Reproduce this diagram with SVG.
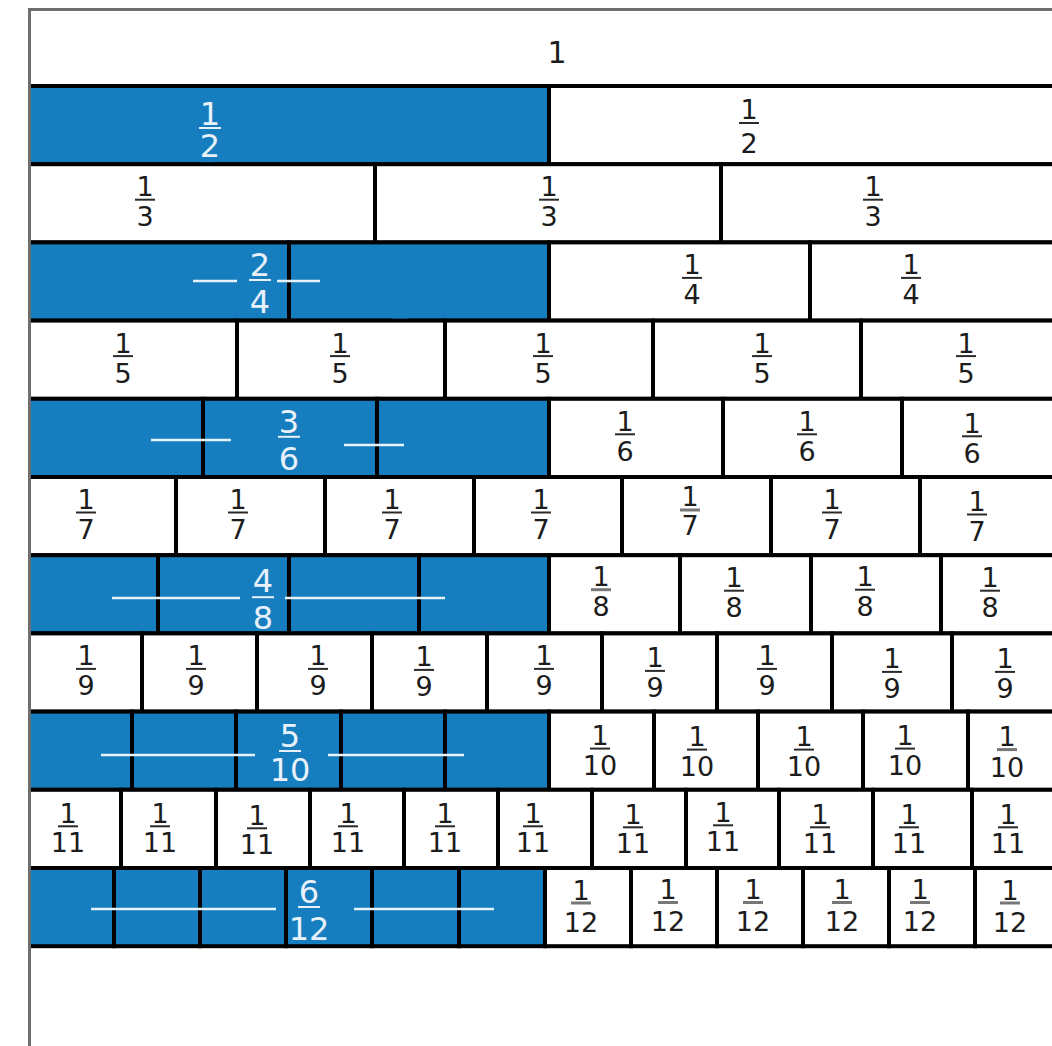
<svg xmlns="http://www.w3.org/2000/svg" width="1052" height="1046" viewBox="0 0 1052 1046">
<style>
.w{fill:#fff;stroke:#000;stroke-width:4}
.b{fill:#167ebf;stroke:#000;stroke-width:4}
text{font-family:"DejaVu Sans",Verdana,sans-serif;text-anchor:middle}
.t{font-size:27px;fill:#1c1c1c}
.tb{font-size:32px;fill:#e8f1fa}
.fb{stroke:#2a2a2a;stroke-width:2}
.fw{stroke:#e8f1fa;stroke-width:2}
.ln{stroke:#e8f1fa;stroke-width:2.5}
.frame{stroke:#6e6e6e;stroke-width:3;fill:none}
</style>
<rect width="1052" height="1046" fill="#fff"/>

<g id="whole"><text class="t" style="font-size:30px" x="557" y="63">1</text></g>

<g id="row2" transform="translate(0,86)">
<g id="r2c1"><rect class="b" x="28" y="0" width="521" height="78.2"/></g>
<g id="r2c2"><rect class="w" x="549" y="0" width="531" height="78.2"/><text class="t" x="749" y="33">1</text><line class="fb" x1="739" x2="759" y1="37" y2="37"/><text class="t" x="749" y="67">2</text></g>
<rect x="200" y="74" width="14" height="5" fill="#167ebf"/>
<g id="r2label"><text class="tb" x="210" y="39">1</text><line class="fw" x1="199" x2="221" y1="42" y2="42"/><text class="tb" x="210" y="71">2</text></g>
</g>

<g id="row3" transform="translate(0,164.2)">
<g id="r3c1"><rect class="w" x="28" y="0" width="347" height="78.2"/><text class="t" x="145" y="32">1</text><line class="fb" x1="135" x2="155" y1="35.5" y2="35.5"/><text class="t" x="145" y="62">3</text></g>
<g id="r3c2"><rect class="w" x="375" y="0" width="346" height="78.2"/><text class="t" x="549" y="32">1</text><line class="fb" x1="539" x2="559" y1="35.5" y2="35.5"/><text class="t" x="549" y="62">3</text></g>
<g id="r3c3"><rect class="w" x="721" y="0" width="359" height="78.2"/><text class="t" x="873" y="32">1</text><line class="fb" x1="863" x2="883" y1="35.5" y2="35.5"/><text class="t" x="873" y="62">3</text></g>
</g>

<g id="row4" transform="translate(0,242.4)">
<g id="r4c1"><rect class="b" x="28" y="0" width="261" height="78.2"/></g>
<g id="r4c2"><rect class="b" x="289" y="0" width="260" height="78.2"/></g>
<g id="r4c3"><rect class="w" x="549" y="0" width="261" height="78.2"/><text class="t" x="692" y="32">1</text><line class="fb" x1="682" x2="702" y1="35.5" y2="35.5"/><text class="t" x="692" y="62">4</text></g>
<g id="r4c4"><rect class="w" x="810" y="0" width="270" height="78.2"/><text class="t" x="911" y="32">1</text><line class="fb" x1="901" x2="921" y1="35.5" y2="35.5"/><text class="t" x="911" y="62">4</text></g>
<rect x="391" y="74" width="18" height="4" fill="#167ebf"/>
<g id="r4label"><text class="tb" x="260" y="33.6">2</text><line class="fw" x1="249" x2="271" y1="37.6" y2="37.6"/><text class="tb" x="260" y="70.6">4</text></g>
</g>

<g id="row5" transform="translate(0,320.6)">
<g id="r5c1"><rect class="w" x="28" y="0" width="209" height="78.2"/><text class="t" x="123" y="32">1</text><line class="fb" x1="113" x2="133" y1="35.5" y2="35.5"/><text class="t" x="123" y="62">5</text></g>
<g id="r5c2"><rect class="w" x="237" y="0" width="208" height="78.2"/><text class="t" x="340" y="32">1</text><line class="fb" x1="330" x2="350" y1="35.5" y2="35.5"/><text class="t" x="340" y="62">5</text></g>
<g id="r5c3"><rect class="w" x="445" y="0" width="208" height="78.2"/><text class="t" x="543" y="32">1</text><line class="fb" x1="533" x2="553" y1="35.5" y2="35.5"/><text class="t" x="543" y="62">5</text></g>
<g id="r5c4"><rect class="w" x="653" y="0" width="208" height="78.2"/><text class="t" x="762" y="32">1</text><line class="fb" x1="752" x2="772" y1="35.5" y2="35.5"/><text class="t" x="762" y="62">5</text></g>
<g id="r5c5"><rect class="w" x="861" y="0" width="219" height="78.2"/><text class="t" x="966" y="32">1</text><line class="fb" x1="956" x2="976" y1="35.5" y2="35.5"/><text class="t" x="966" y="62">5</text></g>
</g>

<g id="row6" transform="translate(0,398.8)">
<g id="r6c1"><rect class="b" x="28" y="0" width="175" height="78.2"/></g>
<g id="r6c2"><rect class="b" x="203" y="0" width="174" height="78.2"/></g>
<g id="r6c3"><rect class="b" x="377" y="0" width="172" height="78.2"/></g>
<g id="r6c4"><rect class="w" x="549" y="0" width="174" height="78.2"/><text class="t" x="625" y="32">1</text><line class="fb" x1="615" x2="635" y1="35.5" y2="35.5"/><text class="t" x="625" y="62">6</text></g>
<g id="r6c5"><rect class="w" x="723" y="0" width="179" height="78.2"/><text class="t" x="807" y="32">1</text><line class="fb" x1="797" x2="817" y1="35.5" y2="35.5"/><text class="t" x="807" y="62">6</text></g>
<g id="r6c6"><rect class="w" x="902" y="0" width="178" height="78.2"/><text class="t" x="972" y="34">1</text><line class="fb" x1="962" x2="982" y1="37.5" y2="37.5"/><text class="t" x="972" y="64">6</text></g>
<g id="r6label"><text class="tb" x="289" y="34">3</text><line class="fw" x1="278" x2="300" y1="38" y2="38"/><text class="tb" x="289" y="71">6</text></g>
</g>

<g id="row7" transform="translate(0,477)">
<g id="r7c1"><rect class="w" x="28" y="0" width="148" height="78.2"/><text class="t" x="86" y="32">1</text><line class="fb" x1="76" x2="96" y1="35.5" y2="35.5"/><text class="t" x="86" y="62">7</text></g>
<g id="r7c2"><rect class="w" x="176" y="0" width="149" height="78.2"/><text class="t" x="238" y="32">1</text><line class="fb" x1="228" x2="248" y1="35.5" y2="35.5"/><text class="t" x="238" y="62">7</text></g>
<g id="r7c3"><rect class="w" x="325" y="0" width="149" height="78.2"/><text class="t" x="392" y="32">1</text><line class="fb" x1="382" x2="402" y1="35.5" y2="35.5"/><text class="t" x="392" y="62">7</text></g>
<g id="r7c4"><rect class="w" x="474" y="0" width="148" height="78.2"/><text class="t" x="541" y="32">1</text><line class="fb" x1="531" x2="551" y1="35.5" y2="35.5"/><text class="t" x="541" y="62">7</text></g>
<g id="r7c5"><rect class="w" x="622" y="0" width="149" height="78.2"/><text class="t" x="690" y="29">1</text><line class="fb" x1="680" x2="700" y1="33" y2="33" style="stroke-width:3;stroke:#777"/><text class="t" x="690" y="58">7</text></g>
<g id="r7c6"><rect class="w" x="771" y="0" width="149" height="78.2"/><text class="t" x="832" y="32">1</text><line class="fb" x1="822" x2="842" y1="35.5" y2="35.5"/><text class="t" x="832" y="62">7</text></g>
<g id="r7c7"><rect class="w" x="920" y="0" width="160" height="78.2"/><text class="t" x="977" y="34">1</text><line class="fb" x1="967" x2="987" y1="37.5" y2="37.5"/><text class="t" x="977" y="64">7</text></g>
</g>

<g id="row8" transform="translate(0,555.2)">
<g id="r8c1"><rect class="b" x="28" y="0" width="130" height="78.2"/></g>
<g id="r8c2"><rect class="b" x="158" y="0" width="131" height="78.2"/></g>
<g id="r8c3"><rect class="b" x="289" y="0" width="130" height="78.2"/></g>
<g id="r8c4"><rect class="b" x="419" y="0" width="130" height="78.2"/></g>
<g id="r8c5"><rect class="w" x="549" y="0" width="131" height="78.2"/><text class="t" x="601" y="31">1</text><line class="fb" x1="591" x2="611" y1="34.5" y2="34.5" style="stroke-width:3;stroke:#777"/><text class="t" x="601" y="61">8</text></g>
<g id="r8c6"><rect class="w" x="680" y="0" width="131" height="78.2"/><text class="t" x="734" y="32">1</text><line class="fb" x1="724" x2="744" y1="35.5" y2="35.5"/><text class="t" x="734" y="62">8</text></g>
<g id="r8c7"><rect class="w" x="811" y="0" width="130" height="78.2"/><text class="t" x="865" y="31">1</text><line class="fb" x1="855" x2="875" y1="34.5" y2="34.5"/><text class="t" x="865" y="61">8</text></g>
<g id="r8c8"><rect class="w" x="941" y="0" width="139" height="78.2"/><text class="t" x="990" y="32">1</text><line class="fb" x1="980" x2="1000" y1="35.5" y2="35.5"/><text class="t" x="990" y="62">8</text></g>
<g id="r8label"><text class="tb" x="263" y="37">4</text><line class="fw" x1="252" x2="274" y1="42" y2="42"/><text class="tb" x="263" y="74">8</text></g>
</g>

<g id="row9" transform="translate(0,633.4)">
<g id="r9c1"><rect class="w" x="28" y="0" width="114" height="78.2"/><text class="t" x="86" y="32">1</text><line class="fb" x1="76" x2="96" y1="35.5" y2="35.5"/><text class="t" x="86" y="62">9</text></g>
<g id="r9c2"><rect class="w" x="142" y="0" width="115" height="78.2"/><text class="t" x="196" y="32">1</text><line class="fb" x1="186" x2="206" y1="35.5" y2="35.5"/><text class="t" x="196" y="62">9</text></g>
<g id="r9c3"><rect class="w" x="257" y="0" width="115" height="78.2"/><text class="t" x="318" y="32">1</text><line class="fb" x1="308" x2="328" y1="35.5" y2="35.5"/><text class="t" x="318" y="62">9</text></g>
<g id="r9c4"><rect class="w" x="372" y="0" width="115" height="78.2"/><text class="t" x="424" y="33">1</text><line class="fb" x1="414" x2="434" y1="36.5" y2="36.5"/><text class="t" x="424" y="63">9</text></g>
<g id="r9c5"><rect class="w" x="487" y="0" width="115" height="78.2"/><text class="t" x="544" y="32">1</text><line class="fb" x1="534" x2="554" y1="35.5" y2="35.5"/><text class="t" x="544" y="62">9</text></g>
<g id="r9c6"><rect class="w" x="602" y="0" width="115" height="78.2"/><text class="t" x="655" y="34">1</text><line class="fb" x1="645" x2="665" y1="37.5" y2="37.5"/><text class="t" x="655" y="64">9</text></g>
<g id="r9c7"><rect class="w" x="717" y="0" width="115" height="78.2"/><text class="t" x="767" y="32">1</text><line class="fb" x1="757" x2="777" y1="35.5" y2="35.5"/><text class="t" x="767" y="62">9</text></g>
<g id="r9c8"><rect class="w" x="832" y="0" width="120" height="78.2"/><text class="t" x="892" y="35">1</text><line class="fb" x1="882" x2="902" y1="38.5" y2="38.5"/><text class="t" x="892" y="65">9</text></g>
<g id="r9c9"><rect class="w" x="952" y="0" width="128" height="78.2"/><text class="t" x="1005" y="35">1</text><line class="fb" x1="995" x2="1015" y1="38.5" y2="38.5"/><text class="t" x="1005" y="65">9</text></g>
</g>

<g id="row10" transform="translate(0,711.6)">
<g id="r10c1"><rect class="b" x="28" y="0" width="104" height="78.2"/></g>
<g id="r10c2"><rect class="b" x="132" y="0" width="104" height="78.2"/></g>
<g id="r10c3"><rect class="b" x="236" y="0" width="105" height="78.2"/></g>
<g id="r10c4"><rect class="b" x="341" y="0" width="104" height="78.2"/></g>
<g id="r10c5"><rect class="b" x="445" y="0" width="104" height="78.2"/></g>
<g id="r10c6"><rect class="w" x="549" y="0" width="105" height="78.2"/><text class="t" x="600" y="33">1</text><line class="fb" x1="590" x2="610" y1="37" y2="37"/><text class="t" x="600" y="63">10</text></g>
<g id="r10c7"><rect class="w" x="654" y="0" width="104" height="78.2"/><text class="t" x="697" y="34">1</text><line class="fb" x1="687" x2="707" y1="38" y2="38"/><text class="t" x="697" y="64">10</text></g>
<g id="r10c8"><rect class="w" x="758" y="0" width="105" height="78.2"/><text class="t" x="804" y="34">1</text><line class="fb" x1="794" x2="814" y1="38" y2="38"/><text class="t" x="804" y="64">10</text></g>
<g id="r10c9"><rect class="w" x="863" y="0" width="105" height="78.2"/><text class="t" x="905" y="33">1</text><line class="fb" x1="895" x2="915" y1="37" y2="37"/><text class="t" x="905" y="63">10</text></g>
<g id="r10c10"><rect class="w" x="968" y="0" width="112" height="78.2"/><text class="t" x="1007" y="34">1</text><line class="fb" x1="997" x2="1017" y1="38" y2="38" style="stroke-width:3;stroke:#777"/><text class="t" x="1007" y="65">10</text></g>
<g id="r10label"><text class="tb" x="290" y="35">5</text><line class="fw" x1="279" x2="301" y1="39.4" y2="39.4"/><text class="tb" x="290" y="69">10</text></g>
</g>

<g id="row11" transform="translate(0,789.8)">
<g id="r11c1"><rect class="w" x="28" y="0" width="93" height="78.2"/><text class="t" x="68" y="33">1</text><line class="fb" x1="58" x2="78" y1="36.5" y2="36.5"/><text class="t" x="68" y="62">11</text></g>
<g id="r11c2"><rect class="w" x="121" y="0" width="95" height="78.2"/><text class="t" x="160" y="33">1</text><line class="fb" x1="150" x2="170" y1="36.5" y2="36.5"/><text class="t" x="160" y="62">11</text></g>
<g id="r11c3"><rect class="w" x="216" y="0" width="94" height="78.2"/><text class="t" x="257" y="35">1</text><line class="fb" x1="247" x2="267" y1="38.5" y2="38.5"/><text class="t" x="257" y="64">11</text></g>
<g id="r11c4"><rect class="w" x="310" y="0" width="94" height="78.2"/><text class="t" x="348" y="33">1</text><line class="fb" x1="338" x2="358" y1="36.5" y2="36.5"/><text class="t" x="348" y="62">11</text></g>
<g id="r11c5"><rect class="w" x="404" y="0" width="94" height="78.2"/><text class="t" x="445" y="33">1</text><line class="fb" x1="435" x2="455" y1="36.5" y2="36.5"/><text class="t" x="445" y="62">11</text></g>
<g id="r11c6"><rect class="w" x="498" y="0" width="94" height="78.2"/><text class="t" x="533" y="33">1</text><line class="fb" x1="523" x2="543" y1="36.5" y2="36.5"/><text class="t" x="533" y="62">11</text></g>
<g id="r11c7"><rect class="w" x="592" y="0" width="94" height="78.2"/><text class="t" x="633" y="34">1</text><line class="fb" x1="623" x2="643" y1="37.5" y2="37.5"/><text class="t" x="633" y="63">11</text></g>
<g id="r11c8"><rect class="w" x="686" y="0" width="93" height="78.2"/><text class="t" x="723" y="32">1</text><line class="fb" x1="713" x2="733" y1="35.5" y2="35.5"/><text class="t" x="723" y="61">11</text></g>
<g id="r11c9"><rect class="w" x="779" y="0" width="94" height="78.2"/><text class="t" x="820" y="34">1</text><line class="fb" x1="810" x2="830" y1="37.5" y2="37.5"/><text class="t" x="820" y="63">11</text></g>
<g id="r11c10"><rect class="w" x="873" y="0" width="99" height="78.2"/><text class="t" x="909" y="34">1</text><line class="fb" x1="899" x2="919" y1="37.5" y2="37.5"/><text class="t" x="909" y="63">11</text></g>
<g id="r11c11"><rect class="w" x="972" y="0" width="108" height="78.2"/><text class="t" x="1008" y="34">1</text><line class="fb" x1="998" x2="1018" y1="37.5" y2="37.5"/><text class="t" x="1008" y="63">11</text></g>
</g>

<g id="row12" transform="translate(0,868)">
<g id="r12c1"><rect class="b" x="28" y="0" width="86" height="78.2"/></g>
<g id="r12c2"><rect class="b" x="114" y="0" width="86" height="78.2"/></g>
<g id="r12c3"><rect class="b" x="200" y="0" width="86" height="78.2"/></g>
<g id="r12c4"><rect class="b" x="286" y="0" width="86" height="78.2"/></g>
<g id="r12c5"><rect class="b" x="372" y="0" width="87" height="78.2"/></g>
<g id="r12c6"><rect class="b" x="459" y="0" width="86" height="78.2"/></g>
<g id="r12c7"><rect class="w" x="545" y="0" width="86" height="78.2"/><text class="t" x="581" y="32">1</text><line class="fb" x1="571" x2="591" y1="35" y2="35" style="stroke-width:3;stroke:#777"/><text class="t" x="581" y="64">12</text></g>
<g id="r12c8"><rect class="w" x="631" y="0" width="86" height="78.2"/><text class="t" x="668" y="31">1</text><line class="fb" x1="658" x2="678" y1="34.5" y2="34.5" style="stroke-width:3;stroke:#777"/><text class="t" x="668" y="63">12</text></g>
<g id="r12c9"><rect class="w" x="717" y="0" width="86" height="78.2"/><text class="t" x="753" y="31">1</text><line class="fb" x1="743" x2="763" y1="34.5" y2="34.5" style="stroke-width:3;stroke:#777"/><text class="t" x="753" y="63">12</text></g>
<g id="r12c10"><rect class="w" x="803" y="0" width="86" height="78.2"/><text class="t" x="842" y="31">1</text><line class="fb" x1="832" x2="852" y1="34.5" y2="34.5" style="stroke-width:3;stroke:#777"/><text class="t" x="842" y="63">12</text></g>
<g id="r12c11"><rect class="w" x="889" y="0" width="86" height="78.2"/><text class="t" x="920" y="31">1</text><line class="fb" x1="910" x2="930" y1="34.5" y2="34.5" style="stroke-width:3;stroke:#777"/><text class="t" x="920" y="63">12</text></g>
<g id="r12c12"><rect class="w" x="975" y="0" width="105" height="78.2"/><text class="t" x="1010" y="32">1</text><line class="fb" x1="1000" x2="1020" y1="35" y2="35" style="stroke-width:3;stroke:#777"/><text class="t" x="1010" y="64">12</text></g>
<g id="r12label"><text class="tb" x="309" y="35">6</text><line class="fw" x1="298" x2="320" y1="39" y2="39"/><text class="tb" x="309" y="72">12</text></g>
</g>

<g id="connectors">
<line class="ln" x1="193" x2="237" y1="281" y2="281"/>
<line class="ln" x1="277" x2="320" y1="281" y2="281"/>
<line class="ln" x1="151" x2="231" y1="440" y2="440"/>
<line class="ln" x1="344" x2="404" y1="445" y2="445"/>
<line class="ln" x1="112" x2="240" y1="598" y2="598"/>
<line class="ln" x1="285" x2="445" y1="598" y2="598"/>
<line class="ln" x1="101" x2="255" y1="755" y2="755"/>
<line class="ln" x1="328" x2="464" y1="755" y2="755"/>
<line class="ln" x1="91" x2="276" y1="909" y2="909"/>
<line class="ln" x1="354" x2="494" y1="909" y2="909"/>
</g>

<g id="frame">
<rect x="0" y="0" width="28" height="1046" fill="#fff"/>
<line class="frame" x1="29.5" y1="8" x2="29.5" y2="1046"/>
<line class="frame" x1="28" y1="9.5" x2="1052" y2="9.5"/>
</g>
</svg>
